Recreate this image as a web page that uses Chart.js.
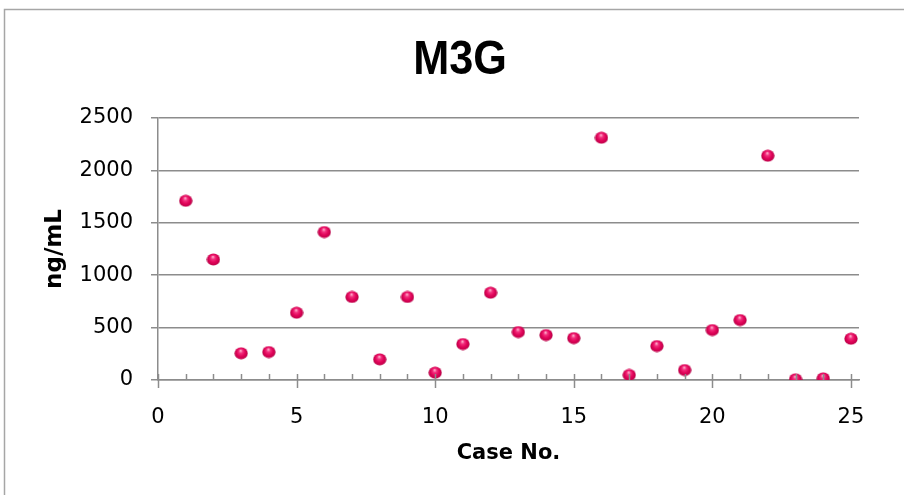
<!DOCTYPE html>
<html>
<head>
<meta charset="utf-8">
<script src="https://cdn.jsdelivr.net/npm/chart.js@4"></script>
<style>
  html, body { margin: 0; padding: 0; background: #ffffff; }
  #wrap { width: 904px; height: 495px; }
</style>
</head>
<body>
<div id="wrap"><canvas id="c" width="904" height="495"></canvas></div>
<script>
// ---- data ----
const caseNo = [1,2,3,4,5,6,7,8,9,10,11,12,13,14,15,16,17,18,19,20,21,22,23,24,25];
const m3gValues = [1710,1150,255,267,642,1412,792,197,792,70,343,833,458,429,400,2312,48,324,95,477,572,2140,7,16,394];
const xTickLabels = [0,5,10,15,20,25];
const yTickLabels = [0,500,1000,1500,2000,2500];
const chartTitle = 'M3G';
const xTitle = 'Case No.';
const yTitle = 'ng/mL';

// sphere marker
function makeSphere() {
  const c = document.createElement('canvas');
  c.width = 14; c.height = 13;
  const ctx = c.getContext('2d');
  const g = ctx.createRadialGradient(6.5, 3.8, 0.3, 7, 6.5, 7.2);
  g.addColorStop(0, '#ffb0cc');
  g.addColorStop(0.25, '#f2307e');
  g.addColorStop(0.55, '#e2055a');
  g.addColorStop(0.85, '#c2004a');
  g.addColorStop(1, '#8c0035');
  ctx.fillStyle = g;
  ctx.beginPath();
  ctx.ellipse(7, 6.5, 6.6, 6.1, 0, 0, Math.PI * 2);
  ctx.fill();
  return c;
}
const sphere = makeSphere();

const gridColor = '#8c8c8c';

const framePlugin = {
  id: 'frame',
  beforeDraw(chart) {
    const ctx = chart.ctx;
    ctx.save();
    ctx.fillStyle = '#ffffff';
    ctx.fillRect(0, 0, chart.width, chart.height);
    ctx.strokeStyle = '#a6a6a6';
    ctx.lineWidth = 1.5;
    ctx.strokeRect(4.5, 9.5, 1000, 1000);
    ctx.restore();
  },
  afterDraw(chart) {
    // chart title (narrowed bold sans)
    const ctx = chart.ctx;
    ctx.save();
    ctx.fillStyle = '#000000';
    ctx.font = "bold 48px 'Liberation Sans', Arial, sans-serif";
    ctx.textAlign = 'center';
    ctx.textBaseline = 'alphabetic';
    ctx.translate(460, 74);
    ctx.scale(0.9, 1);
    ctx.fillText(chartTitle, 0, 0);
    ctx.restore();
  }
};

const xTicksPlugin = {
  id: 'xTicks',
  afterDatasetsDraw(chart) {
    const ctx = chart.ctx;
    const xs = chart.scales.x;
    const y0 = xs.top;
    ctx.save();
    ctx.strokeStyle = gridColor;
    ctx.lineWidth = 1.5;
    for (let i = 0; i <= 25; i++) {
      const px = Math.round(xs.getPixelForValue(i)) + 0.5;
      ctx.beginPath();
      if (i % 5 === 0) { ctx.moveTo(px, y0 - 6); ctx.lineTo(px, y0 + 8); }
      else { ctx.moveTo(px, y0 - 6); ctx.lineTo(px, y0); }
      ctx.stroke();
    }
    ctx.restore();
  }
};

new Chart(document.getElementById('c'), {
  type: 'scatter',
  data: {
    datasets: [{
      label: chartTitle,
      data: caseNo.map((x, i) => ({ x: x, y: m3gValues[i] })),
      pointStyle: sphere,
      pointRadius: 7,
      clip: { left: 10, top: 10, right: 10, bottom: 0 }
    }]
  },
  options: {
    responsive: false,
    animation: false,
    devicePixelRatio: 1,
    layout: { padding: { left: 16, right: 45, top: 118, bottom: 0 } },
    plugins: {
      legend: { display: false },
      tooltip: { enabled: false },
      title: { display: false }
    },
    scales: {
      x: {
        type: 'linear',
        min: 0,
        max: 25.29,
        afterBuildTicks(scale) { scale.ticks = xTickLabels.map(v => ({ value: v })); },
        afterFit(scale) { scale.height = 115; },
        grid: { display: false, drawTicks: false },
        border: { display: true, color: gridColor, width: 1.5 },
        ticks: {
          color: '#000000',
          padding: 25,
          maxRotation: 0,
          callback: (v) => String(v),
          font: { family: "'DejaVu Sans', sans-serif", size: 21 }
        },
        title: {
          display: true,
          text: xTitle,
          color: '#000000',
          font: { family: "'DejaVu Sans', sans-serif", size: 21, weight: 'bold' },
          padding: { top: 0, bottom: 29 }
        }
      },
      y: {
        min: 0,
        max: 2500,
        afterBuildTicks(scale) { scale.ticks = yTickLabels.map(v => ({ value: v })); },
        afterFit(scale) { scale.width = 142; },
        grid: { color: gridColor, lineWidth: 1.5, tickLength: 7, drawTicks: true },
        border: { display: true, color: gridColor, width: 1.5 },
        ticks: {
          color: '#000000',
          padding: 18,
          callback: (v) => String(v),
          font: { family: "'DejaVu Sans', sans-serif", size: 21 }
        },
        title: {
          display: true,
          text: yTitle,
          color: '#000000',
          font: { family: "'DejaVu Sans', sans-serif", size: 23, weight: 'bold' },
          padding: { top: 25, bottom: 0 }
        }
      }
    }
  },
  plugins: [framePlugin, xTicksPlugin]
});
</script>
</body>
</html>
